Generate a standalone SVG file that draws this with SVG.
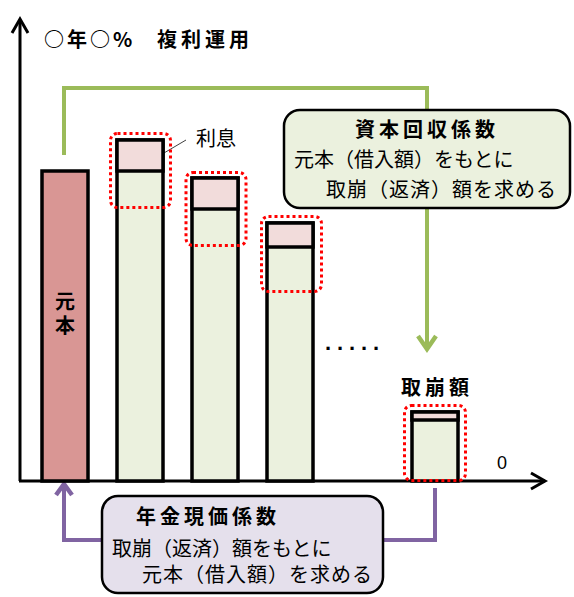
<svg xmlns="http://www.w3.org/2000/svg" width="574" height="597" viewBox="0 0 574 597">
<style>
.t{font-family:"Noto Sans CJK JP","Liberation Sans",sans-serif;fill:#000}
.b{font-weight:bold;letter-spacing:4px}
.bar{stroke:#000;stroke-width:3.5}
.prin{fill:#EBF1DE}
.int{fill:#F2DCDB}
.dot{fill:none;stroke:#FF0000;stroke-width:3;stroke-dasharray:3 3}
.axis{stroke:#000;stroke-width:3;fill:none}
</style>
<rect width="574" height="597" fill="#fff"/>
<g id="connectors">
<polyline points="64,155 64,88 427,88 427,348" fill="none" stroke="#9BBB59" stroke-width="4"/>
<polyline points="418,336 427,349 436,336" fill="none" stroke="#9BBB59" stroke-width="4.5"/>
<polyline points="435,488 435,540 64,540 64,486" fill="none" stroke="#8064A2" stroke-width="4"/>
<polyline points="56,495 64,484 72,495" fill="none" stroke="#8064A2" stroke-width="4.5"/>
<line x1="147" y1="163" x2="186" y2="140" stroke="#404040" stroke-width="1"/>
</g>
<g id="axes">
<polyline class="axis" points="20,481 20,20"/>
<polyline class="axis" points="12,33 20,19 28,33"/>
<polyline class="axis" points="19,481 545,481"/>
<polyline class="axis" points="531,473 545,481 531,489"/>
<text x="497" y="469" font-family="'Liberation Sans',sans-serif" font-size="18">0</text>
</g>
<g id="title">
<text class="t" x="44" y="47" font-size="20" font-weight="bold" letter-spacing="3">○年○%</text>
<text class="t b" x="157" y="47" font-size="20">複利運用</text>
</g>
<g id="bar1">
<rect class="bar" x="42" y="171" width="46" height="310" fill="#D99694"/>
<text class="t" x="65" y="291" font-size="20" font-weight="bold" letter-spacing="4" style="writing-mode:vertical-rl">元本</text>
</g>
<g id="bar2">
<rect class="bar prin" x="117" y="140" width="46" height="341"/>
<rect class="bar int" x="117" y="140" width="46" height="31"/>
<rect class="dot" x="110.5" y="133.5" width="60" height="74" rx="7"/>
</g>
<g id="bar3">
<rect class="bar prin" x="192" y="178" width="46" height="303"/>
<rect class="bar int" x="192" y="178" width="46" height="31"/>
<rect class="dot" x="186" y="172.5" width="60" height="73" rx="7"/>
</g>
<g id="bar4">
<rect class="bar prin" x="267" y="223" width="46" height="258"/>
<rect class="bar int" x="267" y="223" width="46" height="24"/>
<rect class="dot" x="261.5" y="216.5" width="60" height="75" rx="7"/>
</g>
<g id="bar5">
<rect class="bar prin" x="412" y="412" width="46" height="69"/>
<rect class="bar int" x="412" y="412" width="46" height="8"/>
<rect class="dot" x="404.5" y="405.5" width="61" height="75" rx="7"/>
<text class="t b" x="401" y="395" font-size="20">取崩額</text>
</g>
<g id="interest-label">
<text class="t" x="196" y="146" font-size="20">利息</text>
</g>
<text x="325" y="350" font-family="'Liberation Sans',sans-serif" font-size="22" font-weight="bold" letter-spacing="5.9">.....</text>
<g id="capital-recovery">
<rect x="284" y="110" width="286" height="98" rx="16" fill="#EBF1DE" stroke="#000" stroke-width="2.5"/>
<text class="t b" x="355" y="137" font-size="20">資本回収係数</text>
<text class="t" x="294" y="167" font-size="20">元本（借入額）をもとに</text>
<text class="t" x="326" y="197" font-size="20" letter-spacing="1">取崩（返済）額を求める</text>
</g>
<g id="annuity-pv">
<rect x="102" y="496" width="281" height="97" rx="16" fill="#E5E0EC" stroke="#000" stroke-width="2.5"/>
<text class="t b" x="136" y="524" font-size="20">年金現価係数</text>
<text class="t" x="112" y="556" font-size="20">取崩（返済）額をもとに</text>
<text class="t" x="142" y="582" font-size="20" letter-spacing="1">元本（借入額）を求める</text>
</g>
</svg>
